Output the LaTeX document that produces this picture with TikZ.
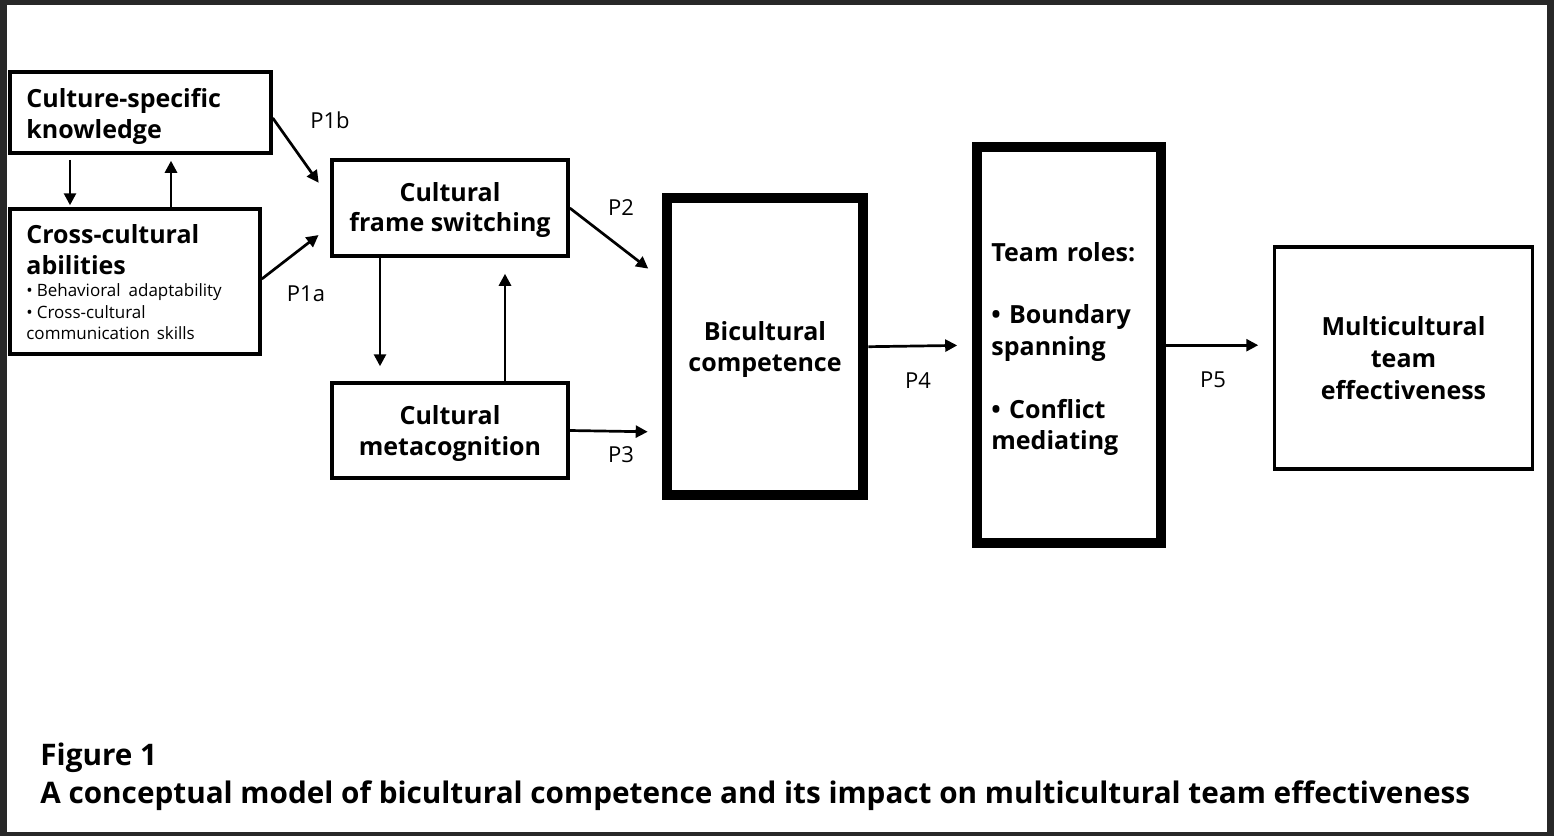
\documentclass[tikz,border=0pt]{standalone}
\usepackage{fontspec}
\setmainfont{Open Sans}
\usetikzlibrary{arrows.meta}
\definecolor{framecol}{RGB}{40,40,40}
\begin{document}
\begin{tikzpicture}[x=0.5pt,y=-0.5pt,
  box/.style={draw, line width=1.75pt, inner sep=0pt},
  heavybox/.style={draw, line width=5pt, inner sep=0pt},
  txt/.style={inner sep=0pt},
  bt/.style={font=\bfseries\fontsize{12.5}{15.5}\selectfont},
  arr/.style={line width=1.35pt, -{Triangle[length=6pt,width=6pt]}},
  plab/.style={font=\fontsize{11}{13}\selectfont, inner sep=0pt}]
\useasboundingbox (0,0) rectangle (1554,836);
\fill[framecol] (0,0) rectangle (1554,836);
\fill[white] (7,5) rectangle (1547,832);

% boxes
\node[box, minimum width=130.5pt, minimum height=40.5pt] (csk) at (140.5,112.5) {};
\node[box, minimum width=125pt, minimum height=72.5pt] (cca) at (135,281.5) {};
\node[box, minimum width=118pt, minimum height=48pt] (cfs) at (450,208) {};
\node[box, minimum width=118pt, minimum height=47.5pt] (cm) at (450,430.5) {};
\node[heavybox, minimum width=98.3pt, minimum height=148.3pt] (bc) at (765,346.7) {};
\node[heavybox, minimum width=92.2pt, minimum height=197.8pt] (tr) at (1069,345.2) {};
\node[box, minimum width=129pt, minimum height=111pt] (mte) at (1403.5,358) {};

% box texts
\node[txt, bt, anchor=west, text width=120pt, align=left] (cskt) at (26,116.5) {Culture-specific\\knowledge};
\node[txt, anchor=west, text width=115pt, align=left] (ccat) at (26,282.5)
  {{\bfseries\fontsize{12.5}{15.5}\selectfont Cross-cultural\\abilities\par}\vspace{0.2pt}{\fontsize{8.5}{10.75}\selectfont •\hspace{2pt}Behavioral\hspace{4pt}adaptability\\•\hspace{2pt}Cross-cultural\\communication skills\par}};
\node[txt, bt, align=center] (cfst) at (450,210) {Cultural\\frame switching};
\node[txt, bt, align=center] (cmt) at (450,433.5) {Cultural\\metacognition};
\node[txt, bt, align=center] (bct) at (765,349.5) {Bicultural\\competence};
\node[txt, anchor=west, text width=85pt, align=left, font=\bfseries\fontsize{12.5}{15.75}\selectfont]
  (trt) at (991,349) {Team roles:\\[15.75pt]• Boundary\\spanning\\[15.75pt]• Conflict\\mediating};
\node[txt, align=center, font=\bfseries\fontsize{12.5}{16}\selectfont] (mtet) at (1403.5,358) {Multicultural\\team\\effectiveness};

% arrows
\draw[arr, shorten <=2.5pt, shorten >=1pt] (csk.south -| 70,0) -- (cca.north -| 70,0);
\draw[arr, shorten >=3pt] (cca.north -| 171,0) -- (csk.south -| 171,0);
\draw[arr, shorten >=10pt] (csk.east |- 0,118) -- (cfs.west |- 0,199);
\draw[arr, shorten >=7.4pt] (cca.east |- 0,279) -- (cfs.west |- 0,226);
\draw[arr, shorten >=7.5pt] (cfs.south -| 380,0) -- (cm.north -| 380,0);
\draw[arr, shorten >=8pt] (cm.north -| 505,0) -- (cfs.south -| 505,0);
\draw[arr, shorten >=8.5pt] (cfs.east) -- (bc.west |- 0,279);
\draw[arr, shorten >=7pt] (cm.east) -- (bc.west |- 0,432);
\draw[arr, shorten >=7.3pt] (bc.east) -- (tr.west);
\draw[arr, shorten >=7.25pt] (tr.east) -- (mte.west |- tr.east);

% labels
\node[plab] (l1b) at (330,120) {P1b};
\node[plab] (l1a) at (306,294) {P1a};
\node[plab] (l2) at (621,208) {P2};
\node[plab] (l3) at (621,455) {P3};
\node[plab] (l4) at (918,381) {P4};
\node[plab] (l5) at (1213,380) {P5};

% caption
\node[anchor=west, inner sep=0pt, align=left, font=\bfseries\fontsize{14.85}{19}\selectfont]
  (cap) at (40,777) {Figure 1\\A conceptual model of bicultural competence and its impact on multicultural team effectiveness};
\end{tikzpicture}
\end{document}
